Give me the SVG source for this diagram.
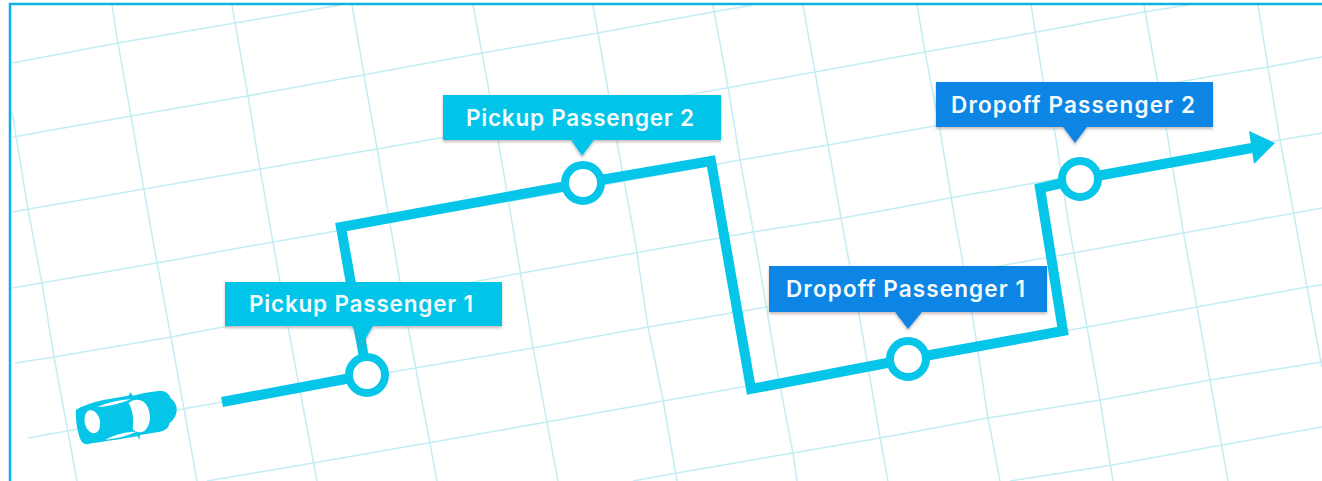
<svg xmlns="http://www.w3.org/2000/svg" width="1322" height="481" viewBox="0 0 1322 481">
<style>
.g{fill:none;stroke:#c4edf4;stroke-width:1.5}
.r{fill:none;stroke:#05c5e8;stroke-width:10;stroke-linejoin:miter}
.c{fill:#fff;stroke:#05c5e8;stroke-width:8}
.cy{fill:#05c5e8}
.bl{fill:#0a85e4}
.t{font-family:"Inter","Liberation Sans",sans-serif;font-weight:600;font-size:22.5px;fill:#f4fbfd;text-anchor:middle}
</style>
<defs>
<filter id="sh" x="-5%" y="-10%" width="110%" height="130%"><feDropShadow dx="0" dy="2" stdDeviation="1.5" flood-color="#7a6a60" flood-opacity=".45"/></filter>
</defs>
<rect width="1322" height="481" fill="#fff"/>
<g id="grid">
<polyline class="g" points="12,112 28,209 42,283 54,357 77,481"/>
<polyline class="g" points="112,5 118,44 131,116 144,190 157,263 171,337 197,481"/>
<polyline class="g" points="232,5 235,23 248,96 260,169 273,242 288,327 317,481"/>
<polyline class="g" points="352,5 364,75 377,148 398,270 408,327 437,481"/>
<polyline class="g" points="473,5 482,53 498,140 515,240 533,348 547,422 558,481"/>
<polyline class="g" points="593,5 598,33 617,142 635,240 648,327 663,400 677,481"/>
<polyline class="g" points="713,5 728,87 740,160 755,240 777,370 793,453 797,481"/>
<polyline class="g" points="803,5 815,72 828,145 845,240 860,320 880,437 888,481"/>
<polyline class="g" points="917,5 925,52 940,130 955,220 972,313 988,418 1000,481"/>
<polyline class="g" points="1031,5 1043,80 1055,133 1068,220 1087,327 1100,400 1113,481"/>
<polyline class="g" points="1144,5 1157,78 1167,133 1183,230 1197,307 1210,380 1228,481"/>
<polyline class="g" points="1258,5 1268,67 1280,140 1295,220 1307,287 1322,367"/>
<polyline class="g" points="12,63 118,43 235,23 340,5"/>
<polyline class="g" points="13,137 131,116 247,96 363,75 482,53 598,33 713,12 753,5"/>
<polyline class="g" points="12,212 144,189 260,169 377,149 687,95 815,72 925,52 1037,32 1144,12 1187,5"/>
<polyline class="g" points="12,288 157,263 273,242 620,182 740,160 828,145 940,125 1213,76 1268,67 1322,57"/>
<polyline class="g" points="15,363 54,357 171,337 223,327 522,273 635,253 753,232 843,218 950,198 1023,185 1280,140 1322,133"/>
<polyline class="g" points="28,438 73,430 177,410 222,402 415,368 533,348 648,327 767,307 1073,253 1183,233 1295,213 1322,208"/>
<polyline class="g" points="207,481 313,463 428,443 547,422 663,401 742,387 1087,327 1197,307 1307,287 1322,285"/>
<polyline class="g" points="633,481 677,473 793,453 880,438 988,418 1100,400 1210,380 1322,362"/>
<polyline class="g" points="1010,481 1113,465 1222,445 1322,427"/>
</g>
<rect x="0" y="0" width="10" height="481" fill="#fff"/>
<rect x="0" y="0" width="1322" height="3" fill="#fff"/>
<path d="M10 481V4H1322" fill="none" stroke="#0fb1e3" stroke-width="2.5"/>
<g id="connectors">
<path class="r" d="M222 402L367 375"/>
<path class="r" d="M367 375L341 227L583 183L711 161L751 389L908 359L1063 331L1040 188L1080 179L1252 148"/>
<polygon class="cy" points="1275,143 1249,131 1254,164"/>
</g>
<g id="car" transform="translate(60,375) scale(.3333)">
<path class="cy" d="M48 105C60 95 100 82 130 75L205 62L212 52L218 62C245 56 280 48 305 48C320 50 328 58 332 70C345 80 352 95 350 108C348 125 338 138 328 145C328 158 315 168 300 170L240 180L238 195L232 183C200 190 140 198 95 205C80 210 68 208 62 195C52 170 46 135 48 105Z"/>
<ellipse cx="97" cy="140" rx="23" ry="35" transform="rotate(-13 97 140)" fill="#fff"/>
<path d="M206 84C228 66 254 74 264 98C274 125 272 150 254 167C240 175 226 172 218 162C222 132 218 105 206 84Z" fill="#fff"/>
<path d="M112 96C145 82 180 74 212 72C190 84 150 94 112 96Z" fill="#fff"/>
<path d="M136 194C165 192 200 184 230 170C200 170 165 178 136 194Z" fill="#fff"/>
</g>
<g id="stop1"><circle class="c" cx="367" cy="375" r="18"/></g>
<g id="stop2"><circle class="c" cx="583" cy="183" r="18"/></g>
<g id="stop3"><circle class="c" cx="908" cy="359" r="18"/></g>
<g id="stop4"><circle class="c" cx="1080" cy="179" r="18"/></g>
<g id="label-pickup-1"><path class="cy" filter="url(#sh)" d="M225 282H502V326H373L362 345L352 326H225Z"/><text class="t" x="361" y="312" textLength="224">Pickup Passenger 1</text></g>
<g id="label-pickup-2"><path class="cy" filter="url(#sh)" d="M443 95H721V140H594L582 156L571 140H443Z"/><text class="t" x="580" y="126" textLength="228">Pickup Passenger 2</text></g>
<g id="label-dropoff-1"><path class="bl" filter="url(#sh)" d="M769 266H1047V312H922L908 329L895 312H769Z"/><text class="t" x="905.5" y="297" textLength="239">Dropoff Passenger 1</text></g>
<g id="label-dropoff-2"><path class="bl" filter="url(#sh)" d="M936 82H1213V127H1087L1075 143L1063 127H936Z"/><text class="t" x="1073" y="113" textLength="244">Dropoff Passenger 2</text></g>
</svg>
